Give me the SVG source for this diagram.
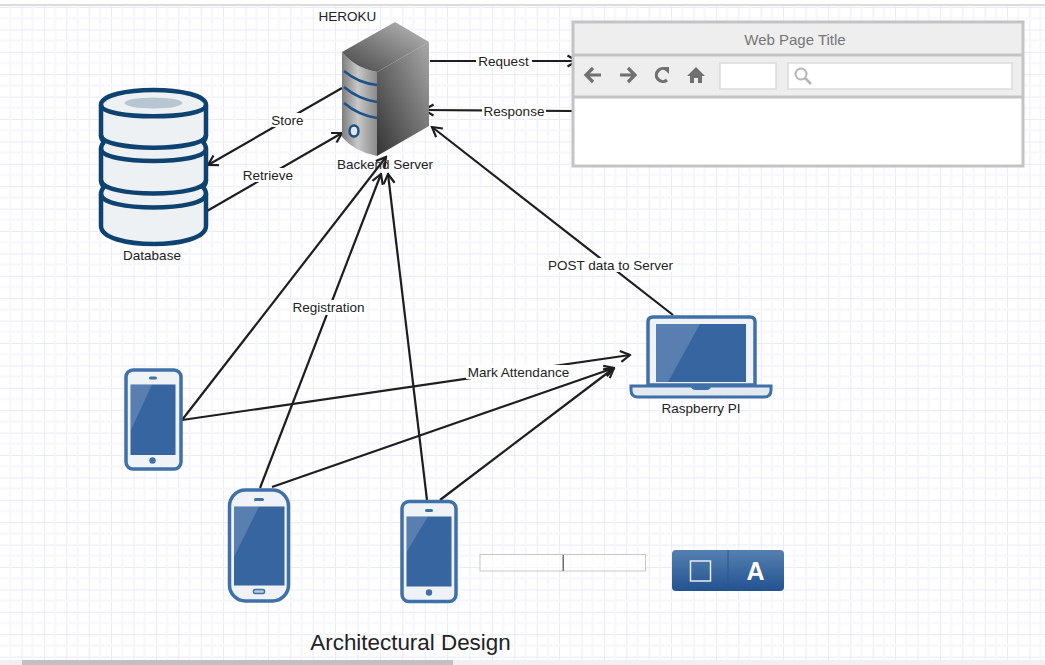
<svg xmlns="http://www.w3.org/2000/svg" width="1045" height="665" viewBox="0 0 1045 665">
<style>
text{font-family:"Liberation Sans",Arial,sans-serif;font-size:13.5px;fill:#222;text-anchor:middle}
.c{fill:none;stroke:#1e1e1e;stroke-width:2.200;marker-end:url(#arr)}
.lb{fill:#fff}
.frame{fill:#3f70a8}
.lt{fill:#eff3f7}
.scr{fill:#37659f}
.gl{fill:#fff;opacity:.17}
.db{fill:#edf1f4;stroke:#0e4270;stroke-width:4.500}
.arc{fill:none;stroke:#0e4270;stroke-width:4.500}
.br{fill:none;stroke:#c4c4c4;stroke-width:3}
.ic{fill:none;stroke:#707070;stroke-width:3.200}
</style>
<defs>
<marker id="arr" viewBox="0 0 14 14" refX="12.500" refY="7" markerWidth="14" markerHeight="14" markerUnits="userSpaceOnUse" orient="auto"><path d="M3 1.500L12.500 7L3 12.500" fill="none" stroke="#1e1e1e" stroke-width="2.200"/></marker>
<pattern id="grid" x="21.500" y="7" width="22.400" height="22.400" patternUnits="userSpaceOnUse">
<path d="M0 0V22.400M0 0H22.400" stroke="#e9e9ff" stroke-width="2" fill="none"/>
<path d="M11.200 0V22.400M0 11.200H22.400" stroke="#f6f6fd" stroke-width="2" fill="none"/>
</pattern>
<linearGradient id="sv1" x1="0" x2="1" y1="0" y2="0"><stop offset="0" stop-color="#7d7d7d"/><stop offset=".45" stop-color="#c8c8c8"/><stop offset="1" stop-color="#8a8a8a"/></linearGradient>
<linearGradient id="sv2" x1="0" x2="1" y1="1" y2="0"><stop offset="0" stop-color="#333"/><stop offset="1" stop-color="#a8a8a8"/></linearGradient>
<linearGradient id="sv3" x1="0" x2="1" y1="1" y2="0"><stop offset="0" stop-color="#454545"/><stop offset="1" stop-color="#bdbdbd"/></linearGradient>
<linearGradient id="bt" x1="0" x2="0" y1="0" y2="1"><stop offset="0" stop-color="#5580b0"/><stop offset="1" stop-color="#225290"/></linearGradient>
</defs>
<rect width="1045" height="665" fill="#fff"/>
<rect y="5" width="1045" height="655" fill="url(#grid)"/>
<rect y="4" width="1045" height="2" fill="#dcdcdc"/>
<rect y="660" width="1045" height="5" fill="#f0f0f0"/>
<rect x="22" y="660" width="431" height="5" fill="#c1c1c1"/>

<g id="connectors">
<path class="c" d="M430 61H577"/>
<path class="c" d="M572 111L424 110"/>
<path class="c" d="M342 88L208 165"/>
<path class="c" d="M207 211L342 133"/>
<path class="c" d="M182 420L386 157"/>
<path class="c" d="M182 420L630 355"/>
<path class="c" d="M260 488L381 174"/>
<path class="c" d="M272 487L614 368"/>
<path class="c" d="M427 500L388 174"/>
<path class="c" d="M440 500L614 368"/>
<path class="c" d="M673 315L432 127"/>
</g>

<g id="labels">
<rect class="lb" x="476" y="54" width="56" height="14"/><text x="503.500" y="66">Request</text>
<rect class="lb" x="482" y="104" width="64" height="14"/><text x="514" y="116">Response</text>
<rect class="lb" x="270" y="113" width="35" height="14"/><text x="287.500" y="125">Store</text>
<rect class="lb" x="241" y="168" width="54" height="14"/><text x="268" y="180">Retrieve</text>
<rect class="lb" x="291" y="300" width="75" height="15"/><text x="328.500" y="312">Registration</text>
<rect class="lb" x="466" y="365" width="105" height="14"/><text x="518.500" y="377">Mark Attendance</text>
<rect class="lb" x="546" y="258" width="129" height="14"/><text x="610.500" y="270">POST data to Server</text>
</g>

<g id="server">
<path d="M377 156Q355 152 342 137V52Q355 68 377 72Z" fill="url(#sv1)"/>
<path d="M377 72L429 42V126L377 156Z" fill="url(#sv2)"/>
<path d="M342 52L395 22L429 42L377 72Q355 68 342 52Z" fill="url(#sv3)"/>
<path d="M344 71Q358 83 377 85M344 87Q358 99 377 102M344 103Q358 115 377 118" fill="none" stroke="#1f5288" stroke-width="2.500"/>
<ellipse cx="354" cy="131" rx="4.500" ry="5.500" fill="#dfe6ec" stroke="#1f5288" stroke-width="2.500"/>
<text x="385" y="169">Backend Server</text>
<text x="347.500" y="21">HEROKU</text>
</g>

<g id="browser">
<rect x="573" y="22" width="450" height="144" fill="#fff"/>
<rect x="573" y="22" width="450" height="75" fill="#eeeeee"/>
<path class="br" d="M573 55H1023M573 97H1023"/>
<rect class="br" x="573" y="22" width="450" height="144"/>
<text x="795" y="45" style="font-size:15px;fill:#767676">Web Page Title</text>
<path class="ic" d="M601 75H587M593 68L586 75L593 82"/>
<path class="ic" d="M620 75H634M628 68L635 75L628 82"/>
<path class="ic" d="M667 70A6.500 6.500 0 1 0 667 80"/>
<path d="M662 67H669V74Z" fill="#707070"/>
<path d="M687 76L696 67L705 76H702V83H698V78H694V83H690V76Z" fill="#707070"/>
<rect x="720" y="63" width="56" height="26" fill="#fff" stroke="#dcdcdc" stroke-width="1.500"/>
<rect x="788" y="63" width="224" height="26" fill="#fff" stroke="#dcdcdc" stroke-width="1.500"/>
<circle cx="801" cy="74" r="5.500" fill="none" stroke="#b5b5b5" stroke-width="2"/>
<path d="M805 78L811 84" stroke="#b5b5b5" stroke-width="2.500"/>
</g>

<g id="database">
<path class="db" d="M101 105V135Q101 139 104 142Q101 145 101 149V180Q101 184 104 187Q101 190 101 194V226C101 250 206 250 206 226V194Q206 190 203 187Q206 184 206 180V149Q206 145 203 142Q206 139 206 135V105C206 85 101 85 101 105Z"/>
<path class="arc" d="M101 105C101 120 206 120 206 105M101 135C101 152 206 152 206 135M101 149C101 165 206 165 206 149M101 180C101 198 206 198 206 180M101 194C101 212 206 212 206 194"/>
<ellipse cx="153.500" cy="103" rx="29" ry="5.500" fill="#b7c6d1"/>
<text x="152" y="260">Database</text>
</g>

<g id="raspberry">
<path class="lt" d="M648 385V322Q648 317 653 317H750Q755 317 755 322V385Z" stroke="#3f70a8" stroke-width="3.500"/>
<rect class="scr" x="656" y="324" width="90" height="58"/>
<path class="gl" d="M656 382V324H700L668 382Z"/>
<path d="M631 386H771V390Q771 397 764 397H638Q631 397 631 390Z" fill="#e3e9f1" stroke="#3f70a8" stroke-width="3"/>
<path d="M691 386H711Q711 390 706 390H696Q691 390 691 386Z" fill="#3f70a8"/>
<text x="701" y="413">Raspberry PI</text>
</g>

<g id="phone1">
<rect class="lt" x="126" y="370" width="55" height="99" rx="7" stroke="#3f70a8" stroke-width="3.500"/>
<rect class="scr" x="130.500" y="384.500" width="45" height="70.500"/>
<path class="gl" d="M130.500 431V384.500H152Z"/>
<rect x="149" y="376.500" width="8" height="3" rx="1.500" fill="#3f70a8"/>
<circle cx="152.500" cy="460.500" r="3.200" fill="#3f70a8"/>
</g>

<g id="phone2">
<rect class="lt" x="229.500" y="490" width="59" height="111" rx="16" stroke="#3f70a8" stroke-width="3.500"/>
<rect class="scr" x="234" y="506.500" width="50.500" height="79"/>
<path class="gl" d="M234 557V506.500H259Z"/>
<rect x="254" y="498" width="10" height="3" rx="1.500" fill="#3f70a8"/>
<rect x="253.500" y="589.500" width="11" height="4" rx="1.500" fill="#b8c8dc" stroke="#3f70a8" stroke-width="1.500"/>
</g>

<g id="phone3">
<rect class="lt" x="402" y="501.500" width="54" height="100" rx="7" stroke="#3f70a8" stroke-width="3.500"/>
<rect class="scr" x="406.500" y="516.500" width="45" height="70"/>
<path class="gl" d="M406.500 552V516.500H428Z"/>
<rect x="425" y="509" width="8" height="3" rx="1.500" fill="#3f70a8"/>
<circle cx="429" cy="592.500" r="3.200" fill="#3f70a8"/>
</g>

<g id="slider">
<rect x="480" y="554.500" width="165.500" height="16.500" fill="#fff" fill-opacity=".6" stroke="#c8c8c8" stroke-width="1"/>
<rect x="562.500" y="555" width="1.500" height="16" fill="#6e6e6e"/>
</g>

<g id="buttons">
<rect x="672" y="550" width="112" height="41" rx="4" fill="url(#bt)"/>
<path d="M728 550V591" stroke="#2a5688" stroke-width="1"/>
<rect x="690.500" y="561" width="20" height="20" fill="none" stroke="#e6ecf3" stroke-width="1.500"/>
<text x="755.500" y="580" style="font-size:25px;font-weight:bold;fill:#fff">A</text>
</g>

<text id="title" x="410.500" y="650" style="font-size:22.400px">Architectural Design</text>
</svg>
